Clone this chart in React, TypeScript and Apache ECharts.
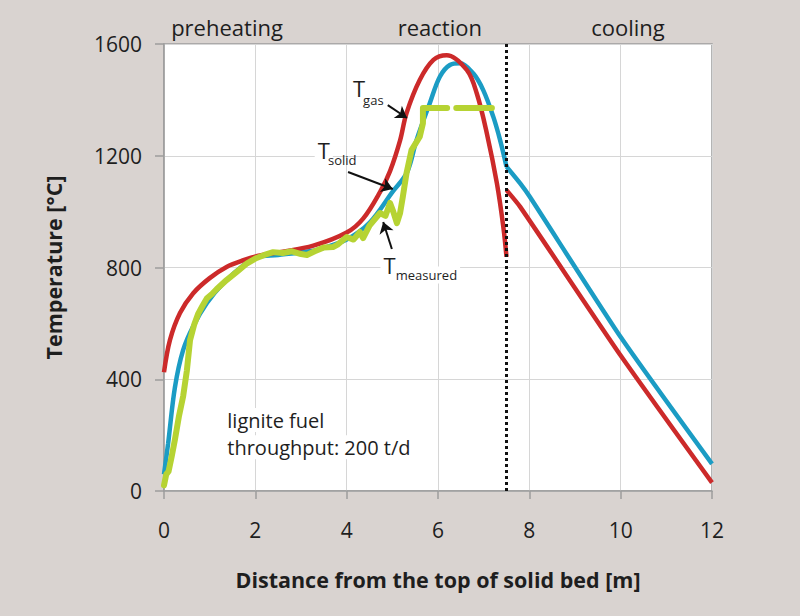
import React, { useEffect, useRef } from "react";
import * as echarts from "echarts";

// ---- data (x: distance [m], y: temperature [°C]) ----
const gasReaction: number[][] = [
  [0, 425], [0.13, 540], [0.35, 637], [0.64, 708], [1.0, 762], [1.37, 802],
  [1.74, 826], [2.1, 843], [2.54, 855], [3.27, 878], [4.0, 925], [4.36, 975],
  [4.73, 1070], [4.95, 1145], [5.17, 1255], [5.31, 1352], [5.6, 1471],
  [5.9, 1543], [6.19, 1560], [6.63, 1507], [6.85, 1423], [7.07, 1280],
  [7.29, 1101], [7.43, 946], [7.5, 838],
];
const gasCooling: number[][] = [
  [7.5, 1077], [7.8, 1017], [10, 485], [12, 30],
];
const solidReaction: number[][] = [
  [0, 60], [0.09, 170], [0.24, 372], [0.42, 505], [0.64, 590], [0.94, 673],
  [1.3, 744], [1.8, 816], [2.04, 838], [2.5, 845], [3.27, 860], [3.5, 870],
  [4.0, 900], [4.5, 960], [5.0, 1070], [5.32, 1140], [5.53, 1256],
  [5.82, 1388], [6.04, 1483], [6.26, 1525], [6.48, 1531], [6.77, 1495],
  [6.99, 1435], [7.21, 1340], [7.36, 1256], [7.5, 1161],
];
const solidCooling: number[][] = [
  [7.5, 1161], [7.8, 1101], [8.01, 1053], [10, 551], [12, 97],
];
const measuredProfile: number[][] = [
  [0, 20], [0.05, 60], [0.1, 70], [0.17, 125], [0.24, 185], [0.33, 270],
  [0.42, 340], [0.5, 430], [0.57, 540], [0.66, 595], [0.75, 635], [0.85, 665],
  [0.94, 690], [1.05, 705], [1.15, 722], [1.37, 755], [1.6, 785], [1.82, 815],
  [2.0, 832], [2.2, 845], [2.39, 855], [2.6, 852], [2.8, 858], [3.0, 848],
  [3.13, 845], [3.3, 858], [3.5, 872], [3.7, 873], [3.8, 882], [4.0, 909],
  [4.15, 900], [4.29, 927], [4.36, 905], [4.5, 950], [4.73, 995], [4.85, 985],
  [4.95, 1031], [5.02, 1000], [5.1, 959], [5.17, 995], [5.23, 1053],
  [5.31, 1137], [5.42, 1220], [5.6, 1268], [5.67, 1316], [5.67, 1371],
  [6.2, 1371], [6.3, NaN], [6.4, 1371], [7.18, 1371],
];
const zoneBoundary = 7.5;
const xTicks = { min: 0, max: 12, interval: 2 };
const yTicks = { min: 0, max: 1600, interval: 400 };

const FONT = "'Open Sans', 'Noto Sans', sans-serif";
const RED = "#cc2a2a";
const BLUE = "#1b9cc4";
const GREEN = "#b6d333";

export default function App() {
  const ref = useRef<HTMLDivElement>(null);
  useEffect(() => {
    if (!ref.current) return;
    const chart = echarts.init(ref.current, null, { renderer: "svg" });
    const arrowLine = (a: number[], b: number[]) => [{ coord: a }, { coord: b }];
    const curve = (name: string, data: number[][], color: string, smooth: number) => ({
      type: "line", name, data, showSymbol: false, smooth,
      lineStyle: { color, width: 4.5 },
    });
    const measured = measuredProfile.map((p) => (Number.isNaN(p[1]) ? [p[0], "-"] : p));
    chart.setOption({
      animation: false,
      backgroundColor: "#d9d3d0",
      grid: {
        left: 164, right: 88, top: 44, bottom: 125,
        show: true, backgroundColor: "#ffffff", borderColor: "#9c9c9c", borderWidth: 1.5,
      },
      xAxis: {
        type: "value", ...xTicks,
        name: "Distance from the top of solid bed [m]",
        nameLocation: "middle", nameGap: 77,
        nameTextStyle: { fontFamily: FONT, fontSize: 21.5, fontWeight: "bold", color: "#1e1e1e" },
        axisLine: { show: true, lineStyle: { color: "#9c9c9c", width: 1.5 } },
        axisTick: { show: true, length: 8, lineStyle: { color: "#9c9c9c", width: 1.5 } },
        axisLabel: { margin: 28, fontFamily: FONT, fontSize: 21, color: "#1e1e1e" },
        splitLine: { show: true, lineStyle: { color: "#d6d6d6", width: 1 } },
      },
      yAxis: {
        type: "value", ...yTicks,
        name: "Temperature [°C]",
        nameLocation: "middle", nameGap: 100,
        nameTextStyle: { fontFamily: FONT, fontSize: 21.5, fontWeight: "bold", color: "#1e1e1e" },
        axisLine: { show: true, lineStyle: { color: "#9c9c9c", width: 1.5 } },
        axisTick: { show: true, length: 9, lineStyle: { color: "#9c9c9c", width: 1.5 } },
        axisLabel: {
          margin: 22, fontFamily: FONT, fontSize: 21, color: "#1e1e1e",
          formatter: (v: number) => String(v),
        },
        splitLine: { show: true, lineStyle: { color: "#d6d6d6", width: 1 } },
      },
      series: [
        {
          ...curve("T_solid", solidReaction, BLUE, 0.35),
          markLine: {
            silent: true, symbol: ["none", "none"], label: { show: false },
            lineStyle: { color: "#111", type: [3, 3], width: 3 },
            data: [{ xAxis: zoneBoundary }],
          },
        },
        curve("T_solid cooling", solidCooling, BLUE, 0.2),
        curve("T_gas", gasReaction, RED, 0.35),
        curve("T_gas cooling", gasCooling, RED, 0.2),
        {
          type: "line", name: "T_measured", data: measured, showSymbol: false,
          connectNulls: false,
          lineStyle: { color: GREEN, width: 6, cap: "round", join: "round" },
          markLine: {
            silent: true, symbol: ["none", "arrow"], symbolSize: 11,
            label: { show: false },
            lineStyle: { color: "#111", type: "solid", width: 2 },
            data: [
              arrowLine([4.9, 1381], [5.32, 1335]),
              arrowLine([4.03, 1142], [5.01, 1081]),
              arrowLine([4.99, 866], [4.8, 963]),
            ],
          },
        },
      ],
    });

    const px = (x: number, y: number) => chart.convertToPixel({ gridIndex: 0 }, [x, y]) as number[];
    const txt = (x: number, y: number, text: string, size: number, align: string, bg?: string) => {
      const p = px(x, y);
      return {
        type: "text", x: p[0], y: p[1], z: 100,
        style: {
          text, fontFamily: FONT, fontSize: size, fill: "#1e1e1e",
          align, verticalAlign: "middle",
          backgroundColor: bg, padding: bg ? [2, 3] : 0,
        },
      };
    };
    chart.setOption({
      graphic: [
        txt(1.38, 1660, "preheating", 22, "center"),
        txt(6.04, 1660, "reaction", 22, "center"),
        txt(10.16, 1660, "cooling", 22, "center"),
        txt(4.14, 1442, "T", 22, "left"),
        txt(4.36, 1399, "gas", 13, "left"),
        txt(3.3, 1220, "T", 22, "left", "#fff"),
        txt(3.59, 1185, "solid", 13, "left"),
        txt(4.74, 809, "T", 22, "left", "#fff"),
        txt(5.01, 773, "measured", 13, "left", "#fff"),
        txt(1.32, 254, "lignite fuel", 20, "left", "#fff"),
        txt(1.32, 157, "throughput: 200 t/d", 20, "left", "#fff"),
      ],
    });
    return () => chart.dispose();
  }, []);
  return <div ref={ref} style={{ position: "fixed", left: 0, top: 0, width: 800, height: 616 }} />;
}
